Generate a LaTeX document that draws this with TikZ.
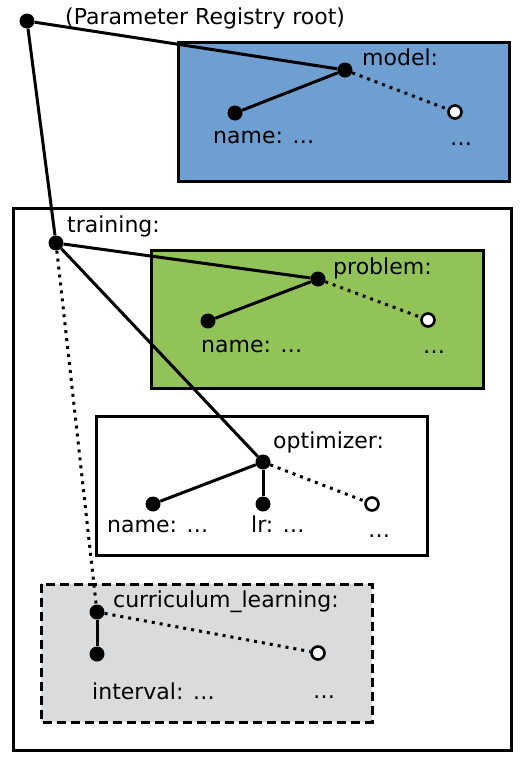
\documentclass[tikz,border=0pt]{standalone}
\usepackage{fontspec}
\setmainfont{DejaVu Sans}
\definecolor{modelblue}{RGB}{111,159,209}
\definecolor{problemgreen}{RGB}{146,195,88}
\definecolor{currgray}{RGB}{217,219,220}
\tikzset{
  full/.style={circle, fill=black, inner sep=0pt, minimum size=15pt},
  hollow/.style={circle, draw=black, line width=2.6pt, fill=white, inner sep=0pt, minimum size=13pt},
  lbl/.style={anchor=base west, inner sep=0pt, font=\fontsize{22}{26}\selectfont},
  link/.style={line width=3pt},
  weak/.style={line width=3pt, dash pattern=on 3pt off 5pt},
  frame/.style={line width=3pt},
}
\begin{document}
\begin{tikzpicture}[x=1pt, y=-1pt]
    \useasboundingbox (0,0) rectangle (528,764);

    % boxes
    \filldraw[frame, fill=modelblue] (178,42) rectangle (509,181);
    \draw[frame] (13,208) rectangle (511,750);
    \filldraw[frame, fill=problemgreen] (151,250) rectangle (483,388);
    \draw[frame] (96,416) rectangle (427,555);
    \filldraw[frame, fill=currgray, dash pattern=on 9pt off 5pt] (41,584) rectangle (372,722);

    % root
    \node[full] (root) at (27,21) {};
    \node[lbl] (rootlbl) at (65,24) {(Parameter Registry root)};

    % model
    \node[full] (model) at (345,70) {};
    \node[lbl] (modellbl) at (362,65) {model:};
    \node[full] (mname) at (235,113) {};
    \node[lbl] (mnamelbl) at (213,143) {name: …};
    \node[hollow] (mmore) at (455,112) {};
    \node[lbl] (mmorelbl) at (450,145) {…};

    % training
    \node[full] (train) at (56,243) {};
    \node[lbl] (trainlbl) at (67,232) {training:};

    % problem
    \node[full] (prob) at (318,279) {};
    \node[lbl] (problbl) at (333,274) {problem:};
    \node[full] (pname) at (208,321) {};
    \node[lbl] (pnamelbl) at (201,352) {name: …};
    \node[hollow] (pmore) at (428,320) {};
    \node[lbl] (pmorelbl) at (423,353) {…};

    % optimizer
    \node[full] (opt) at (263,462) {};
    \node[lbl] (optlbl) at (273,448) {optimizer:};
    \node[full] (oname) at (153,504) {};
    \node[lbl] (onamelbl) at (107,532) {name: …};
    \node[full] (olr) at (263,504) {};
    \node[lbl] (olrlbl) at (251,532) {lr: …};
    \node[hollow] (omore) at (372,504) {};
    \node[lbl] (omorelbl) at (368,537) {…};

    % curriculum learning
    \node[full] (curr) at (97,612) {};
    \node[lbl] (currlbl) at (113,607) {curriculum\_learning:};
    \node[full] (cint) at (97,654) {};
    \node[lbl] (cintlbl) at (92,699) {interval: …};
    \node[hollow] (cmore) at (318,653) {};
    \node[lbl] (cmorelbl) at (313,698) {…};

    % connectors
    \draw[link] (root) -- (model);
    \draw[link] (root) -- (train);
    \draw[link] (model) -- (mname);
    \draw[weak] (model) -- (mmore);
    \draw[link] (train) -- (prob);
    \draw[link] (train) -- (opt);
    \draw[weak] (train) -- (curr);
    \draw[link] (prob) -- (pname);
    \draw[weak] (prob) -- (pmore);
    \draw[link] (opt) -- (oname);
    \draw[link] (opt) -- (olr);
    \draw[weak] (opt) -- (omore);
    \draw[link] (curr) -- (cint);
    \draw[weak] (curr) -- (cmore);
\end{tikzpicture}
\end{document}
